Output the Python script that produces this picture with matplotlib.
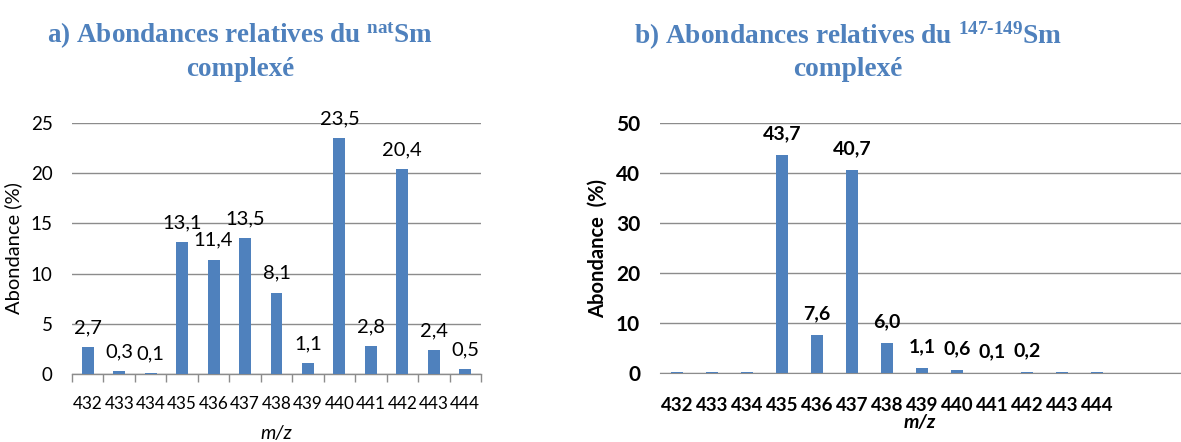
import matplotlib
matplotlib.use("Agg")
import matplotlib.pyplot as plt
import numpy as np

plt.rcParams['font.family'] = ['Lato', 'DejaVu Sans']
plt.rcParams['mathtext.fontset'] = 'custom'
plt.rcParams['mathtext.rm'] = 'Liberation Serif:bold'
plt.rcParams['mathtext.bf'] = 'Liberation Serif:bold'
plt.rcParams['mathtext.it'] = 'Liberation Serif:bold'

categories = ['432', '433', '434', '435', '436', '437', '438', '439', '440', '441', '442', '443', '444']
nat_values = [2.7, 0.3, 0.1, 13.1, 11.4, 13.5, 8.1, 1.1, 23.5, 2.8, 20.4, 2.4, 0.5]
nat_labels = ['2,7', '0,3', '0,1', '13,1', '11,4', '13,5', '8,1', '1,1', '23,5', '2,8', '20,4', '2,4', '0,5']
enr_values = [0.15, 0.15, 0.15, 43.7, 7.6, 40.7, 6.0, 1.1, 0.6, 0.1, 0.2, 0.15, 0.15]
enr_labels = ['', '', '', '43,7', '7,6', '40,7', '6,0', '1,1', '0,6', '0,1', '0,2', '', '']

BAR = '#4F81BD'
TITLE = '#4F81BD'
GRID = '#8C8C8C'

W, H = 1181, 442
fig = plt.figure(figsize=(W / 100, H / 100), dpi=100)

def ax_rect(x0, y0, x1, y1):
    return [x0 / W, 1 - y1 / H, (x1 - x0) / W, (y1 - y0) / H]

# ---- left panel ----
ax1 = fig.add_axes(ax_rect(72, 123, 481, 374))
x = np.arange(len(categories))
ax1.bar(x, nat_values, width=0.38, color=BAR, zorder=3)
ax1.set_xlim(-0.5, len(categories) - 0.5)
ax1.set_ylim(0, 25)
ax1.set_yticks([0, 5, 10, 15, 20, 25])
ax1.yaxis.grid(True, color=GRID, linewidth=1.0, zorder=0)
for s in ['top', 'right', 'left']:
    ax1.spines[s].set_visible(False)
ax1.spines['bottom'].set_color(GRID)
ax1.spines['bottom'].set_linewidth(1.0)
ax1.set_xticks(x)
ax1.set_xticklabels(categories, fontsize=12.3)
ax1.tick_params(axis='x', length=0, pad=16)
ax1.set_xticks(np.arange(-0.5, len(categories)), minor=True)
ax1.tick_params(axis='x', which='minor', length=6, color=GRID, width=1.0)
ax1.tick_params(axis='y', length=0, labelsize=13.5, pad=14)
for v, lab, xi in zip(nat_values, nat_labels, x):
    ax1.annotate(lab, (xi, v), xytext=(0, 10), textcoords='offset points',
                 ha='center', va='baseline', fontsize=14.5)
ax1.set_ylabel('Abondance (%)', fontsize=14.5, labelpad=6)
ax1.set_xlabel('m/z', fontsize=14, fontstyle='italic', labelpad=9)

fig.text(240 / W, 1 - 36 / H, r'a) Abondances relatives du $^{\mathrm{nat}}$Sm',
         ha='center', va='center', fontsize=19.5, color=TITLE,
         family='Liberation Serif', fontweight='bold')
fig.text(240 / W, 1 - 70 / H, 'complexé', ha='center', va='center', fontsize=19.5,
         color=TITLE, family='Liberation Serif', fontweight='bold')

# ---- right panel ----
ax2 = fig.add_axes(ax_rect(659.5, 123, 1181, 373))
ax2.bar(x, enr_values, width=0.34, color=BAR, zorder=3)
ax2.set_xlim(-0.5, len(categories) - 0.5 + (1181 - 1114.5) / 35)
ax2.set_ylim(0, 50)
ax2.set_yticks([0, 10, 20, 30, 40, 50])
ax2.yaxis.grid(True, color=GRID, linewidth=1.0, zorder=0)
for s in ['top', 'right', 'left']:
    ax2.spines[s].set_visible(False)
ax2.spines['bottom'].set_color(GRID)
ax2.set_xticks(x)
ax2.set_xticklabels(categories, fontsize=13.5, fontweight='bold')
ax2.tick_params(axis='x', length=0, pad=17)
ax2.tick_params(axis='y', length=0, labelsize=15, pad=14)
for lab in ax2.get_yticklabels():
    lab.set_fontweight('bold')
for v, lab, xi in zip(enr_values, enr_labels, x):
    if lab:
        ax2.annotate(lab, (xi, v), xytext=(0, 11), textcoords='offset points',
                     ha='center', va='baseline', fontsize=14, fontweight='bold')
ax2.set_ylabel('Abondance  (%)', fontsize=14.5, fontweight='bold', labelpad=6)
ax2.set_xlabel('m/z', fontsize=14, fontstyle='italic', fontweight='bold', labelpad=0)

fig.text(848 / W, 1 - 36 / H, r'b) Abondances relatives du $^{\mathrm{147\text{-}149}}$Sm',
         ha='center', va='center', fontsize=19.7, color=TITLE,
         family='Liberation Serif', fontweight='bold')
fig.text(848 / W, 1 - 70 / H, 'complexé', ha='center', va='center', fontsize=19.7,
         color=TITLE, family='Liberation Serif', fontweight='bold')

fig.savefig('out.png', dpi=100, facecolor='white')
